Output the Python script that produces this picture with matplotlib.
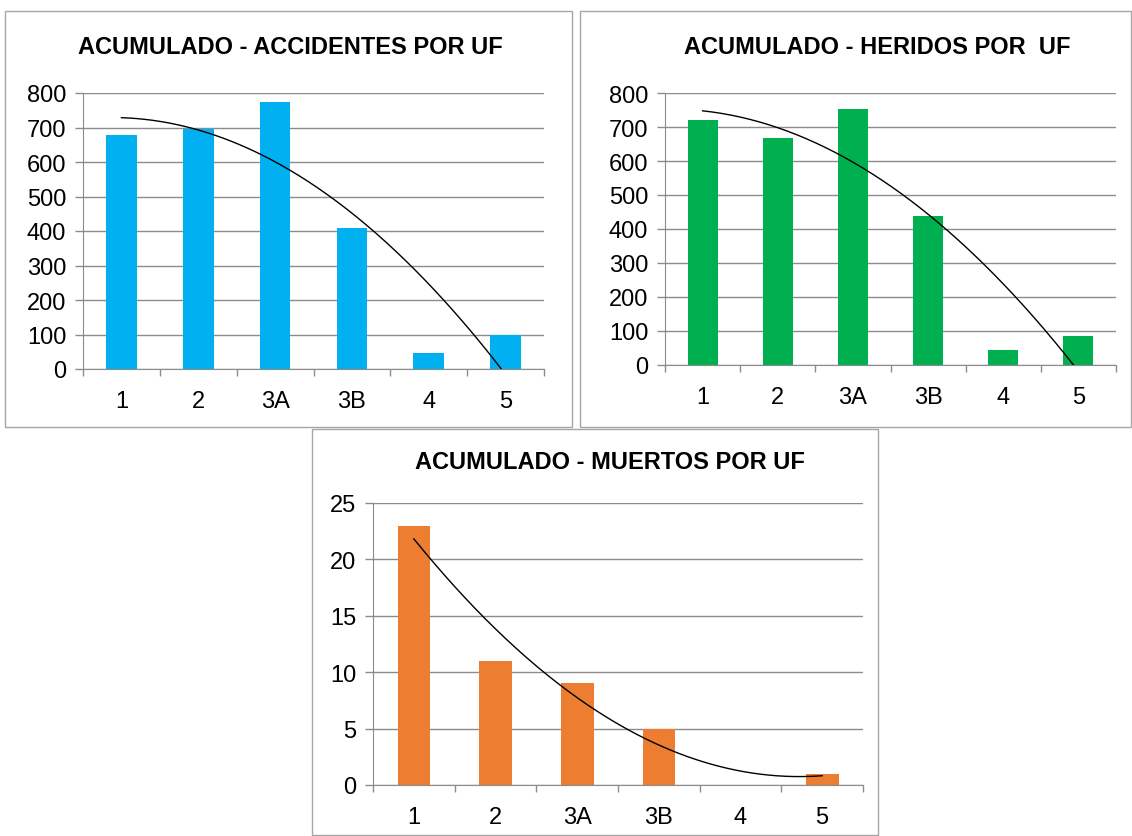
import numpy as np
import matplotlib
matplotlib.use("Agg")
import matplotlib.pyplot as plt
from matplotlib.patches import Rectangle

plt.rcParams['font.family'] = ['Liberation Sans', 'DejaVu Sans']

# ── Data ──────────────────────────────────────────────────────────────────────
categories = ["1", "2", "3A", "3B", "4", "5"]
accidentes = [679, 695, 775, 410, 45, 100]
heridos = [720, 667, 752, 439, 43, 85]
muertos = [23, 11, 9, 5, 0, 1]

W, H = 1132, 837
GRID = "#8C8C8C"

fig = plt.figure(figsize=(W / 100, H / 100), dpi=100, facecolor="white")


def px_axes(left, top, right, bottom):
    return fig.add_axes([left / W, 1 - bottom / H, (right - left) / W, (bottom - top) / H])


def frame(left, top, right, bottom):
    fig.patches.append(Rectangle((left / W, 1 - bottom / H), (right - left) / W,
                                 (bottom - top) / H, transform=fig.transFigure,
                                 fill=False, edgecolor="#A6A6A6", lw=1.0))


def panel(ax, values, color, ymax, step, title, title_xy):
    x = np.arange(len(categories))
    ax.bar(x, values, width=0.4, color=color, zorder=2)
    # order-2 polynomial trend line (Excel style)
    coef = np.polyfit(x + 1, values, 2)
    xs = np.linspace(0, len(categories) - 1, 200)
    ax.plot(xs, np.polyval(coef, xs + 1), color="black", lw=1.0, zorder=3)
    ax.set_xlim(-0.5, len(categories) - 0.5)
    ax.set_ylim(0, ymax)
    ax.set_yticks(np.arange(0, ymax + step / 2, step))
    ax.set_xticks(x)
    ax.set_xticklabels(categories)
    ax.set_xticks(np.arange(-0.5, len(categories), 1), minor=True)
    ax.tick_params(axis="x", which="major", length=0, pad=15, labelsize=17)
    ax.tick_params(axis="x", which="minor", length=5, color=GRID, width=1)
    ax.tick_params(axis="y", length=6, color=GRID, width=1, labelsize=17, pad=6)
    ax.yaxis.grid(True, color=GRID, lw=1.0, zorder=0)
    ax.set_axisbelow(True)
    for s in ("top", "right"):
        ax.spines[s].set_visible(False)
    ax.spines["left"].set_color(GRID)
    ax.spines["bottom"].set_color(GRID)
    fig.text(title_xy[0] / W, 1 - title_xy[1] / H, title, ha="center", va="center",
             fontsize=17, fontweight="bold")


frame(5, 12, 572, 428)
frame(580, 12, 1131, 428)
frame(312, 430, 878, 836)

ax1 = px_axes(83, 94, 544, 370)
panel(ax1, accidentes, "#00B0F0", 800, 100, "ACUMULADO - ACCIDENTES POR UF", (290, 47))

ax2 = px_axes(665, 94, 1116, 366)
panel(ax2, heridos, "#00B050", 800, 100, "ACUMULADO - HERIDOS POR  UF", (877, 47))

ax3 = px_axes(373, 504, 863, 786)
panel(ax3, muertos, "#ED7D31", 25, 5, "ACUMULADO - MUERTOS POR UF", (610, 463))

fig.savefig("out.png", dpi=100, facecolor="white")
